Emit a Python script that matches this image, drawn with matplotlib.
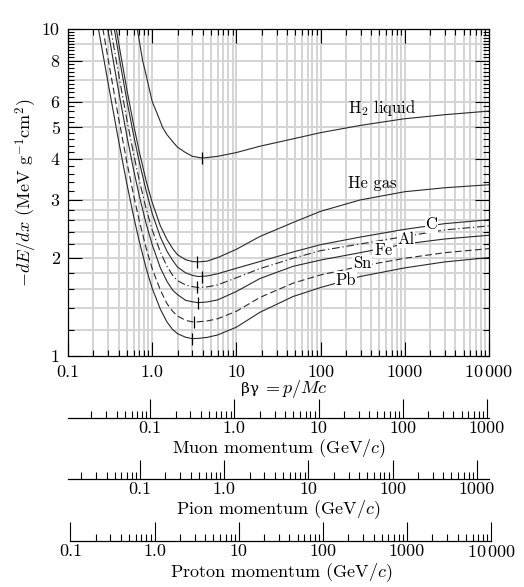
import numpy as np
import matplotlib
matplotlib.use("Agg")
import matplotlib.pyplot as plt
from matplotlib.ticker import LogLocator, NullFormatter, FixedLocator

plt.rcParams['font.family'] = ['cmr10', 'DejaVu Serif']
plt.rcParams['mathtext.fontset'] = 'cm'
plt.rcParams['axes.formatter.use_mathtext'] = True

# beta*gamma sample points
bg = [0.2, 0.25, 0.3, 0.35, 0.4, 0.5, 0.6, 0.7, 0.85, 1.0, 1.25, 1.5, 1.75, 2.0, 2.5,
      3.0, 3.5, 4.5, 6.0, 10, 19, 47, 100, 294, 1000, 3000, 10000]

he = [27.0, 18.98, 14.15, 11.10, 9.05, 6.53, 5.11, 4.23, 3.42, 2.95, 2.50, 2.27, 2.13,
      2.04, 1.97, 1.945, 1.94, 1.95, 2.0, 2.12, 2.32, 2.56, 2.77, 3.0, 3.18, 3.27, 3.34]
c = [24.8, 17.35, 12.98, 10.22, 8.35, 6.05, 4.75, 3.94, 3.19, 2.73, 2.31, 2.09, 1.96,
     1.87, 1.795, 1.765, 1.75, 1.757, 1.785, 1.855, 1.945, 2.08, 2.19, 2.31, 2.44, 2.54, 2.61]
al = [21.0, 14.83, 11.17, 8.84, 7.25, 5.28, 4.16, 3.46, 2.81, 2.43, 2.08, 1.88, 1.765,
      1.70, 1.648, 1.63, 1.62, 1.627, 1.65, 1.735, 1.85, 1.99, 2.10, 2.20, 2.32, 2.43, 2.50]
fe = [18.3, 13.01, 9.85, 7.83, 6.44, 4.71, 3.72, 3.10, 2.53, 2.19, 1.86, 1.69, 1.59,
      1.54, 1.48, 1.465, 1.456, 1.463, 1.485, 1.575, 1.725, 1.88, 1.965, 2.07, 2.20, 2.28, 2.34]
sn = [14.76, 10.59, 8.08, 6.45, 5.32, 3.92, 3.11, 2.60, 2.13, 1.85, 1.59, 1.445, 1.37,
      1.325, 1.285, 1.272, 1.272, 1.28, 1.30, 1.37, 1.51, 1.67, 1.77, 1.88, 1.99, 2.07, 2.13]
pb = [12.22, 8.87, 6.82, 5.48, 4.54, 3.36, 2.68, 2.25, 1.85, 1.61, 1.39, 1.27, 1.205,
      1.17, 1.141, 1.13, 1.132, 1.14, 1.16, 1.225, 1.36, 1.52, 1.62, 1.75, 1.86, 1.94, 2.00]

bg_h2 = [0.6, 0.665, 0.77, 0.85, 1.0, 1.15, 1.33, 1.5, 1.78, 2.0, 2.45, 3.0, 3.94, 6.0,
         10, 19, 50, 100, 294, 960, 3000, 10000]
h2 = [11.5, 10.0, 8.0, 7.2, 6.0, 5.5, 5.0, 4.75, 4.5, 4.35, 4.2, 4.08, 4.03, 4.08,
      4.19, 4.38, 4.63, 4.82, 5.07, 5.31, 5.47, 5.61]

# minimum ionization markers
min_bg = [3.94, 3.37, 3.87, 3.44, 3.47, 3.16, 2.99]
min_val = [4.03, 1.94, 1.748, 1.62, 1.456, 1.27, 1.13]

labels = ['H$_2$ liquid', 'He gas', 'C', 'Al', 'Fe', 'Sn', 'Pb']
label_bg = [536, 407, 2080, 1033, 556, 313, 199]
label_val = [5.73, 3.38, 2.53, 2.275, 2.11, 1.92, 1.708]
label_box = [False, False, True, True, True, True, True]

yticks = [1, 2, 3, 4, 5, 6, 8, 10]
xtick_labels = ['0.1', '1.0', '10', '100', '1000', r'$10\,000$']

m_mu = 0.10566
m_pi = 0.13957

W, H = 524, 587
fig = plt.figure(figsize=(W / 100, H / 100), dpi=100)

def frac(x0, y0, x1, y1):
    return [x0 / W, 1 - y1 / H, (x1 - x0) / W, (y1 - y0) / H]

ax = fig.add_axes(frac(68, 29, 489, 356))
ax.set_xscale('log')
ax.set_yscale('log')
ax.set_xlim(0.1, 10000)
ax.set_ylim(1, 10)

gcol = '#d4d4d4'
# grid
for dec in [0.1, 1, 10, 100, 1000]:
    for k in range(1, 10):
        ax.axvline(dec * k, color=gcol, lw=1.4, zorder=0)
ygrid = list(np.arange(1.2, 3.0, 0.2)) + list(range(3, 10))
for v in ygrid:
    ax.axhline(v, color=gcol, lw=1.4, zorder=0)

lc = '#2a2a2a'
lw = 0.8
ax.plot(bg_h2, h2, color=lc, lw=lw)
ax.plot(bg, he, color=lc, lw=lw)
ax.plot(bg, c, color=lc, lw=lw)
ax.plot(bg, al, color=lc, lw=lw, dashes=[7, 2.5, 1.2, 2.5])
ax.plot(bg, fe, color=lc, lw=lw)
ax.plot(bg, sn, color=lc, lw=lw, dashes=[6, 3])
ax.plot(bg, pb, color=lc, lw=lw)
ax.plot(min_bg, min_val, ls='none', marker='|', ms=9, mew=0.9, color='black')

for t, xb, yv, boxed in zip(labels, label_bg, label_val, label_box):
    box = dict(fc='white', ec='none', pad=0.6) if boxed else None
    ax.text(xb, yv, t, fontsize=12, ha='center', va='center', bbox=box)

ax.set_xticks([0.1, 1, 10, 100, 1000, 10000])
ax.set_xticklabels(xtick_labels)
ax.xaxis.set_minor_locator(LogLocator(subs=np.arange(2, 10)))
ax.xaxis.set_minor_formatter(NullFormatter())
ax.set_yticks(yticks)
ax.set_yticklabels([str(v) for v in yticks])
ax.yaxis.set_minor_locator(FixedLocator(np.arange(1.2, 10, 0.2)))
ax.yaxis.set_minor_formatter(NullFormatter())
ax.tick_params(which='both', direction='in', top=True, right=True, labelsize=13, width=0.8)
ax.tick_params(which='major', length=10)
ax.tick_params(which='minor', length=4)
ax.tick_params(axis='x', pad=6)
ax.tick_params(axis='y', pad=6)
for s in ax.spines.values():
    s.set_linewidth(0.9)
ax.set_ylabel(r'$-dE/dx$ (MeV g$^{-1}$cm$^2$)', fontsize=13, labelpad=2)

# x label: Greek part in a font that has the glyphs
fig.text(259 / W, 1 - 393 / H, 'βγ', family='DejaVu Serif', fontsize=11,
         ha='right', va='baseline')
fig.text(262 / W, 1 - 393 / H, r'$= p/Mc$', fontsize=13, ha='left', va='baseline')

def momentum_axis(ypix, x0, x1, lim, ticks, ticklabels, name):
    a = fig.add_axes(frac(x0, ypix - 1, x1, ypix))
    a.set_xscale('log')
    a.set_xlim(*lim)
    a.patch.set_visible(False)
    for s in ['top', 'left', 'right']:
        a.spines[s].set_visible(False)
    a.spines['bottom'].set_linewidth(0.9)
    a.set_yticks([])
    a.set_xticks(ticks)
    a.set_xticklabels(ticklabels)
    a.xaxis.set_minor_locator(LogLocator(subs=np.arange(2, 10)))
    a.xaxis.set_minor_formatter(NullFormatter())
    a.tick_params(which='both', direction='in', labelsize=13, width=0.8, pad=2)
    a.tick_params(which='major', length=14)
    a.tick_params(which='minor', length=5)
    a.set_xlabel(name, fontsize=13, labelpad=1)
    return a

momentum_axis(418, 68, 489, (0.1 * m_mu, 10000 * m_mu), [0.1, 1, 10, 100, 1000],
              xtick_labels[:5], r'Muon momentum (GeV/$c$)')
momentum_axis(479, 68, 489, (0.1 * m_pi, 10000 * m_pi), [0.1, 1, 10, 100, 1000],
              xtick_labels[:5], r'Pion momentum (GeV/$c$)')
momentum_axis(541, 70.3, 491.3, (0.1, 10000), [0.1, 1, 10, 100, 1000, 10000],
              xtick_labels, r'Proton momentum (GeV/$c$)')

fig.savefig('out.png', dpi=100)
